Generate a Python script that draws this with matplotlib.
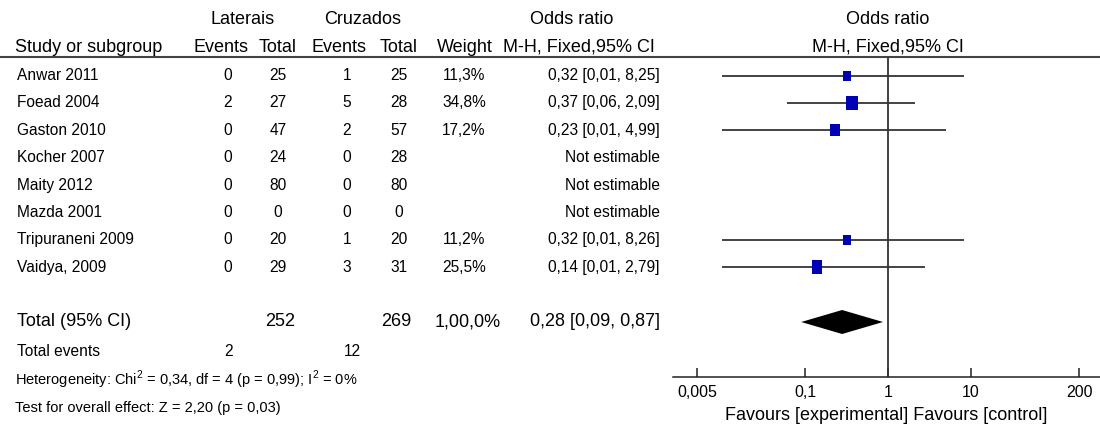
import numpy as np
import matplotlib
matplotlib.use("Agg")
import matplotlib.pyplot as plt
from matplotlib.patches import Polygon

plt.rcParams['font.family'] = ['Liberation Sans', 'DejaVu Sans']
plt.rcParams['mathtext.fontset'] = 'custom'
plt.rcParams['mathtext.rm'] = 'Liberation Sans'

#########
# Datos #
#########

studies = ["Anwar 2011", "Foead 2004", "Gaston 2010", "Kocher 2007",
           "Maity 2012", "Mazda 2001", "Tripuraneni 2009", "Vaidya, 2009"]
lat_events = [0, 2, 0, 0, 0, 0, 0, 0]
lat_total = [25, 27, 47, 24, 80, 0, 20, 29]
cru_events = [1, 5, 2, 0, 0, 0, 1, 3]
cru_total = [25, 28, 57, 28, 80, 0, 20, 31]
weights = [11.3, 34.8, 17.2, np.nan, np.nan, np.nan, 11.2, 25.5]
odds = [0.32, 0.37, 0.23, np.nan, np.nan, np.nan, 0.32, 0.14]
ci_low = [0.01, 0.06, 0.01, np.nan, np.nan, np.nan, 0.01, 0.01]
ci_high = [8.25, 2.09, 4.99, np.nan, np.nan, np.nan, 8.26, 2.79]

total_lat = 252
total_cru = 269
total_weight = "1,00,0%"
total_or, total_low, total_high = 0.28, 0.09, 0.87
events_lat = 2
events_cru = 12

heterogeneity = "Heterogeneity: Chi$^2$ = 0,34, df = 4 (p = 0,99); I$^2$ = 0%"
overall = "Test for overall effect: Z = 2,20 (p = 0,03)"

ticks = [0.005, 0.1, 1, 10, 200]
tick_labels = ["0,005", "0,1", "1", "10", "200"]


def coma(v, d=2):
    return f"{v:.{d}f}".replace('.', ',')


#############################
# Figura (coordenadas en px) #
#############################

fig = plt.figure(figsize=(11, 4.28), dpi=100)
tab = fig.add_axes([0, 0, 1, 1])
tab.set_xlim(0, 1100)
tab.set_ylim(428, 0)
tab.axis('off')

top_line = 57
axis_y = 377
row_y = 75.5 + 27.4 * np.arange(len(studies))

# columnas
x_study = 17
x_lev, x_ltot, x_cev, x_ctot = 228, 278, 347, 399
x_weight = 464
x_ci = 660
x_plot = 888

hdr = 13
body = 11.2

# cabecera
tab.text(243, 19, "Laterais", ha='center', va='center', fontsize=hdr)
tab.text(363, 19, "Cruzados", ha='center', va='center', fontsize=hdr)
tab.text(572, 19, "Odds ratio", ha='center', va='center', fontsize=hdr)
tab.text(x_plot, 19, "Odds ratio", ha='center', va='center', fontsize=hdr)
tab.text(15, 47, "Study or subgroup", ha='left', va='center', fontsize=hdr)
tab.text(221, 47, "Events", ha='center', va='center', fontsize=hdr)
tab.text(278, 47, "Total", ha='center', va='center', fontsize=hdr)
tab.text(339, 47, "Events", ha='center', va='center', fontsize=hdr)
tab.text(399, 47, "Total", ha='center', va='center', fontsize=hdr)
tab.text(465, 47, "Weight", ha='center', va='center', fontsize=hdr)
tab.text(579, 47, "M-H, Fixed,95% CI", ha='center', va='center', fontsize=hdr)
tab.text(x_plot, 47, "M-H, Fixed,95% CI", ha='center', va='center', fontsize=hdr)
tab.hlines(top_line, 0, 1100, color='#444444', lw=1.5)

# filas de estudios
for i, name in enumerate(studies):
    y = row_y[i]
    tab.text(x_study, y, name, ha='left', va='center', fontsize=body)
    tab.text(x_lev, y, str(lat_events[i]), ha='center', va='center', fontsize=body)
    tab.text(x_ltot, y, str(lat_total[i]), ha='center', va='center', fontsize=body)
    tab.text(x_cev, y, str(cru_events[i]), ha='center', va='center', fontsize=body)
    tab.text(x_ctot, y, str(cru_total[i]), ha='center', va='center', fontsize=body)
    if np.isnan(odds[i]):
        ci_txt = "Not estimable"
    else:
        tab.text(x_weight, y, coma(weights[i], 1) + "%", ha='center', va='center', fontsize=body)
        ci_txt = f"{coma(odds[i])} [{coma(ci_low[i])}, {coma(ci_high[i])}]"
    tab.text(x_ci, y, ci_txt, ha='right', va='center', fontsize=body)

# total
y_tot = 322
tab.text(x_study, y_tot, "Total (95% CI)", ha='left', va='center', fontsize=13)
tab.text(x_ltot + 2, y_tot, str(total_lat), ha='center', va='center', fontsize=13)
tab.text(x_ctot - 3, y_tot, str(total_cru), ha='center', va='center', fontsize=13)
tab.text(468, y_tot, total_weight, ha='center', va='center', fontsize=13)
tab.text(x_ci, y_tot,
         f"{coma(total_or)} [{coma(total_low)}, {coma(total_high)}]",
         ha='right', va='center', fontsize=13)
tab.text(x_study, 352, "Total events", ha='left', va='center', fontsize=body)
tab.text(x_lev + 1, 352, str(events_lat), ha='center', va='center', fontsize=body)
tab.text(x_cev + 5, 352, str(events_cru), ha='center', va='center', fontsize=body)
tab.text(15, 380, heterogeneity, ha='left', va='center', fontsize=10.5)
tab.text(15, 408, overall, ha='left', va='center', fontsize=10.5)

################
# Forest plot  #
################

left_px = 672.7
ax = fig.add_axes([left_px / 1100, (428 - axis_y) / 428,
                   (1100 - left_px) / 1100, (axis_y - top_line) / 428])
ax.set_facecolor('none')
ax.set_xscale('log')
ax.set_xlim(0.002547, 358)
ax.set_ylim(axis_y, top_line)

rect = [(-0.4, -0.5), (0.4, -0.5), (0.4, 0.5), (-0.4, 0.5), (-0.4, -0.5)]
for i in range(len(studies)):
    if np.isnan(odds[i]):
        continue
    ax.plot([ci_low[i], ci_high[i]], [row_y[i], row_y[i]], color='#111111', lw=1.1,
            solid_capstyle='butt')
    ax.plot(odds[i], row_y[i], marker=rect, color='#0000b4', ls='none',
            markersize=2.5 + 1.4 * np.sqrt(weights[i]), markeredgewidth=0)

ax.add_patch(Polygon([(total_low, y_tot), (total_or, y_tot - 12),
                      (total_high, y_tot), (total_or, y_tot + 12)],
                     closed=True, color='black', lw=0))

ax.axvline(1, color='#333333', lw=1.3)

for s in ['left', 'right', 'top']:
    ax.spines[s].set_visible(False)
ax.spines['bottom'].set_color('#222222')
ax.spines['bottom'].set_linewidth(1.1)
ax.set_yticks([])
ax.set_xticks(ticks)
ax.set_xticklabels(tick_labels)
ax.minorticks_off()
ax.tick_params(axis='x', direction='in', length=6.5, width=1.1, pad=6,
               labelsize=11.5, color='#222222')
ax.set_xlabel("Favours [experimental] Favours [control]", fontsize=13, labelpad=5)

fig.savefig("out.png", dpi=100)
